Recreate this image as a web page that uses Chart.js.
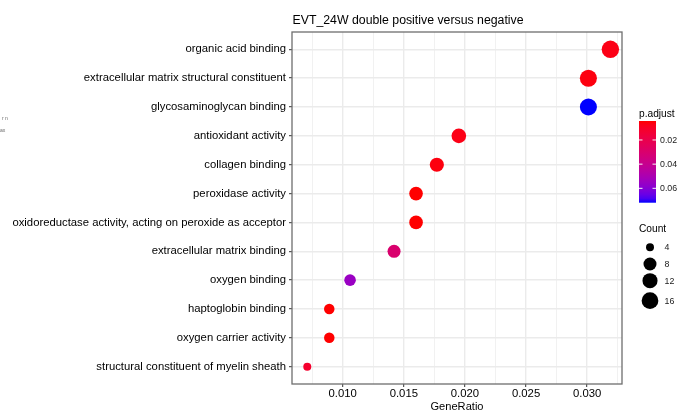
<!DOCTYPE html>
<html>
<head>
<meta charset="utf-8">
<script src="https://cdn.jsdelivr.net/npm/chart.js@4"></script>
<style>
  html, body { margin: 0; padding: 0; background: #ffffff; }
  #wrap { position: relative; width: 693px; height: 419px; }
</style>
</head>
<body>
<div id="wrap"><canvas id="c" width="693" height="419"></canvas></div>
<script>
// ---------------- data ----------------
const categories = [
  'organic acid binding',
  'extracellular matrix structural constituent',
  'glycosaminoglycan binding',
  'antioxidant activity',
  'collagen binding',
  'peroxidase activity',
  'oxidoreductase activity, acting on peroxide as acceptor',
  'extracellular matrix binding',
  'oxygen binding',
  'haptoglobin binding',
  'oxygen carrier activity',
  'structural constituent of myelin sheath'
];
const geneRatio = [0.0319, 0.0301, 0.0301, 0.0195, 0.0177, 0.0160, 0.0160, 0.0142, 0.0106, 0.0089, 0.0089, 0.0071];
const counts    = [18, 17, 17, 11, 10, 9, 9, 8, 6, 5, 5, 4];
const pAdjust   = [0.007, 0.006, 0.0719, 0.007, 0.006, 0.0043, 0.0043, 0.030, 0.055, 0.0043, 0.0043, 0.012];

const xMajorTicks = [0.010, 0.015, 0.020, 0.025, 0.030];
const xTickLabels = ['0.010', '0.015', '0.020', '0.025', '0.030'];
const xMinorTicks = [0.0075, 0.0125, 0.0175, 0.0225, 0.0275, 0.0325];

const colorLegendTicks  = [0.02, 0.04, 0.06];
const colorLegendLabels = ['0.02', '0.04', '0.06'];
const sizeLegendCounts  = [4, 8, 12, 16];
const sizeLegendLabels  = ['4', '8', '12', '16'];

const chartTitle = 'EVT_24W double positive versus negative';
const xTitle = 'GeneRatio';
const colorLegendTitle = 'p.adjust';
const sizeLegendTitle = 'Count';

// ---------------- styling helpers ----------------
const FONT = '"Liberation Sans", Arial, Helvetica, sans-serif';
const pMin = Math.min(...pAdjust), pMax = Math.max(...pAdjust);
const cMin = Math.min(...counts), cMax = Math.max(...counts);

function lin(c) { c /= 255; return c <= 0.04045 ? c / 12.92 : Math.pow((c + 0.055) / 1.055, 2.4); }
function gam(c) { c = c <= 0.0031308 ? 12.92 * c : 1.055 * Math.pow(c, 1 / 2.4) - 0.055; return Math.round(Math.max(0, Math.min(1, c)) * 255); }
function rgb2lab(r, g, b) {
  r = lin(r); g = lin(g); b = lin(b);
  let X = (0.4124 * r + 0.3576 * g + 0.1805 * b) / 0.95047;
  let Y = (0.2126 * r + 0.7152 * g + 0.0722 * b);
  let Z = (0.0193 * r + 0.1192 * g + 0.9505 * b) / 1.08883;
  const f = t => t > 0.008856 ? Math.cbrt(t) : 7.787 * t + 16 / 116;
  X = f(X); Y = f(Y); Z = f(Z);
  return [116 * Y - 16, 500 * (X - Y), 200 * (Y - Z)];
}
function lab2rgb(L, a, b) {
  let Y = (L + 16) / 116, X = a / 500 + Y, Z = Y - b / 200;
  const fi = t => t * t * t > 0.008856 ? t * t * t : (t - 16 / 116) / 7.787;
  X = fi(X) * 0.95047; Y = fi(Y); Z = fi(Z) * 1.08883;
  const r = 3.2406 * X - 1.5372 * Y - 0.4986 * Z;
  const g = -0.9689 * X + 1.8758 * Y + 0.0415 * Z;
  const bb = 0.0557 * X - 0.2040 * Y + 1.0570 * Z;
  return 'rgb(' + gam(r) + ',' + gam(g) + ',' + gam(bb) + ')';
}
const LAB_LOW = rgb2lab(255, 0, 0), LAB_HIGH = rgb2lab(0, 0, 255);
function colorOf(p) {
  const t = Math.max(0, Math.min(1, (p - pMin) / (pMax - pMin)));
  return lab2rgb(LAB_LOW[0] + (LAB_HIGH[0] - LAB_LOW[0]) * t,
                 LAB_LOW[1] + (LAB_HIGH[1] - LAB_LOW[1]) * t,
                 LAB_LOW[2] + (LAB_HIGH[2] - LAB_LOW[2]) * t);
}
function radiusOf(c) { return 4 + 4.7 * Math.sqrt((c - cMin) / (cMax - cMin)); }
function isMajor(v) { return xMajorTicks.some(m => Math.abs(m - v) < 1e-9); }

// ---------------- decoration plugin ----------------
const decor = {
  id: 'decor',
  beforeDraw(chart) {
    const ctx = chart.ctx;
    ctx.save();
    ctx.fillStyle = '#ffffff';
    ctx.fillRect(0, 0, chart.width, chart.height);
    ctx.restore();
  },
  afterDraw(chart) {
    const ctx = chart.ctx;
    const a = chart.chartArea;
    ctx.save();
    // panel border
    ctx.strokeStyle = '#6e6e6e';
    ctx.lineWidth = 1.3;
    ctx.strokeRect(a.left, a.top, a.right - a.left, a.bottom - a.top);

    // title
    ctx.fillStyle = '#000000';
    ctx.font = '12.3px ' + FONT;
    ctx.textAlign = 'left';
    ctx.textBaseline = 'alphabetic';
    ctx.fillText(chartTitle, 292.5, 23.5);

    // colour legend
    ctx.font = '10.2px ' + FONT;
    ctx.fillText(colorLegendTitle, 639, 117);
    const barX = 639, barW = 17, barTop = 121, barH = 81.7;
    const grad = ctx.createLinearGradient(0, barTop, 0, barTop + barH);
    for (let i = 0; i <= 20; i++) {
      grad.addColorStop(i / 20, colorOf(pMin + (pMax - pMin) * i / 20));
    }
    ctx.fillStyle = grad;
    ctx.fillRect(barX, barTop, barW, barH);
    ctx.strokeStyle = 'rgba(255,255,255,0.95)';
    ctx.lineWidth = 1;
    ctx.font = '8.8px ' + FONT;
    ctx.textBaseline = 'middle';
    colorLegendTicks.forEach((v, i) => {
      const y = barTop + (v - pMin) / (pMax - pMin) * barH;
      ctx.beginPath();
      ctx.moveTo(barX, y); ctx.lineTo(barX + 3.5, y);
      ctx.moveTo(barX + barW - 3.5, y); ctx.lineTo(barX + barW, y);
      ctx.stroke();
      ctx.fillStyle = '#1a1a1a';
      ctx.fillText(colorLegendLabels[i], 660, y + 0.5);
    });

    // size legend
    ctx.fillStyle = '#000000';
    ctx.font = '10.2px ' + FONT;
    ctx.textBaseline = 'alphabetic';
    ctx.fillText(sizeLegendTitle, 639, 232.3);
    const sizeY = [247.3, 264, 280.7, 300.7];
    ctx.font = '8.8px ' + FONT;
    ctx.textBaseline = 'middle';
    sizeLegendCounts.forEach((c, i) => {
      ctx.fillStyle = '#000000';
      ctx.beginPath();
      ctx.arc(650, sizeY[i], radiusOf(c), 0, Math.PI * 2);
      ctx.fill();
      ctx.fillStyle = '#1a1a1a';
      ctx.fillText(sizeLegendLabels[i], 664.5, sizeY[i] + 0.5);
    });

    // tiny clipped text fragments at the left edge
    ctx.fillStyle = '#6a6a6a';
    ctx.font = '5px ' + FONT;
    ctx.textBaseline = 'alphabetic';
    ctx.fillText('r n', 2, 120);
    ctx.fillText('ax', 0, 132);
    ctx.restore();
  }
};

// ---------------- chart ----------------
const points = categories.map((c, i) => ({ x: geneRatio[i], y: i }));

new Chart(document.getElementById('c'), {
  type: 'scatter',
  data: {
    datasets: [{
      data: points,
      pointRadius: ctx => radiusOf(counts[ctx.dataIndex]),
      pointHoverRadius: ctx => radiusOf(counts[ctx.dataIndex]),
      backgroundColor: ctx => colorOf(pAdjust[ctx.dataIndex]),
      borderWidth: 0,
      hoverBorderWidth: 0
    }]
  },
  options: {
    responsive: false,
    animation: false,
    devicePixelRatio: 1,
    events: [],
    layout: { padding: { top: 32, right: 71, left: 0, bottom: 0 } },
    plugins: { legend: { display: false }, tooltip: { enabled: false }, title: { display: false } },
    scales: {
      x: {
        type: 'linear',
        min: 0.00585,
        max: 0.03285,
        afterBuildTicks: s => { s.ticks = [...xMinorTicks, ...xMajorTicks].sort((p, q) => p - q).map(v => ({ value: v })); },
        afterFit: s => { s.height = 35; },
        border: { display: false },
        grid: {
          color: '#EBEBEB',
          lineWidth: ctx => (ctx.tick && isMajor(ctx.tick.value)) ? 1.4 : 0.7,
          drawTicks: true,
          tickLength: 3,
          tickWidth: 1,
          tickColor: ctx => (ctx.tick && isMajor(ctx.tick.value)) ? '#333333' : 'rgba(0,0,0,0)'
        },
        ticks: {
          autoSkip: false,
          maxRotation: 0,
          padding: 0,
          color: '#000000',
          font: { family: FONT, size: 11.3 },
          callback: v => { const i = xMajorTicks.findIndex(m => Math.abs(m - v) < 1e-9); return i >= 0 ? xTickLabels[i] : ''; }
        },
        title: {
          display: true,
          text: xTitle,
          color: '#000000',
          font: { family: FONT, size: 11.1 },
          padding: { top: 5.6, bottom: 5.6 }
        }
      },
      y: {
        type: 'linear',
        min: -0.6,
        max: categories.length - 1 + 0.6,
        reverse: true,
        afterBuildTicks: s => { s.ticks = categories.map((c, i) => ({ value: i })); },
        afterFit: s => { s.width = 292; },
        border: { display: false },
        grid: {
          color: '#EBEBEB',
          lineWidth: 1.4,
          drawTicks: true,
          tickLength: 3,
          tickWidth: 1,
          tickColor: '#333333'
        },
        ticks: {
          autoSkip: false,
          padding: 3,
          color: '#000000',
          font: { family: FONT, size: 11.3 },
          callback: v => categories[v]
        }
      }
    }
  },
  plugins: [decor]
});
</script>
</body>
</html>
